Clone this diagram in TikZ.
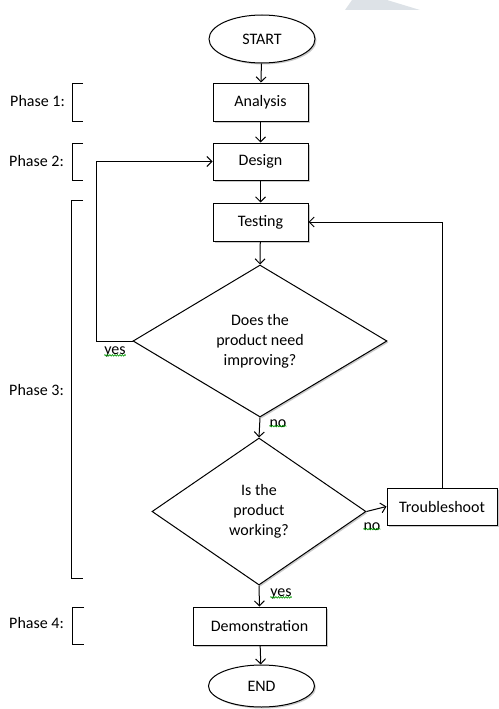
\documentclass[tikz,border=0pt]{standalone}
\usepackage{fontspec}
\setmainfont{Carlito}
\usetikzlibrary{shapes.geometric,arrows.meta,shadows,decorations.pathmorphing}
\begin{document}
\begin{tikzpicture}[x=1pt,y=-1pt,
  every node/.style={font=\fontsize{16}{20}\selectfont},
  shd/.style={drop shadow={shadow xshift=1.5pt,shadow yshift=-1.5pt,opacity=0.35,fill=black!60}},
  procbox/.style={draw,line width=1pt,rectangle,fill=white,shd,inner sep=0pt},
  term/.style={draw,line width=1pt,ellipse,fill=white,shd,inner sep=0pt},
  decis/.style={draw,line width=1pt,diamond,fill=white,shd,inner sep=0pt,align=center},
  conn/.style={line width=1pt,-{Straight Barb[length=5pt,width=10pt]}},
  brk/.style={line width=0.9pt},
  lbl/.style={inner sep=0pt},
  squig/.style={draw=green!60!black,line width=0.6pt,decorate,decoration={snake,amplitude=0.8pt,segment length=2.5pt}}
]
\useasboundingbox (0,0) rectangle (498,709);
% watermark fragment
\fill[color={rgb,255:red,221;green,226;blue,231}] (345,10) -- (352,0) -- (387,0) -- (420,10) -- cycle;

% nodes
\node[term,minimum width=106pt,minimum height=48pt] (start) at (262,39) {START};
\node[procbox,minimum width=95pt,minimum height=38pt] (analysis) at (260.5,102) {Analysis};
\node[procbox,minimum width=95pt,minimum height=37pt] (design) at (260.5,161.5) {Design};
\node[procbox,minimum width=95pt,minimum height=38pt] (testing) at (260.5,222) {Testing};
\node[decis,minimum width=254pt,minimum height=152pt] (d1) at (260,341) {Does the\\product need\\improving?};
\node[decis,minimum width=214pt,minimum height=147pt] (d2) at (259,511.5) {Is the\\product\\working?};
\node[procbox,minimum width=110pt,minimum height=37pt] (trouble) at (442,506.5) {Troubleshoot};
\node[procbox,minimum width=133pt,minimum height=38pt] (demo) at (259.5,626) {Demonstration};
\node[term,minimum width=106pt,minimum height=42pt] (end) at (261.5,686) {END};

% connectors
\draw[conn] (start) -- (analysis);
\draw[conn] (analysis) -- (design);
\draw[conn] (design) -- (testing);
\draw[conn] (testing) -- (d1.north);
\draw[conn] (d1.south) -- (d2.north);
\draw[conn] (d2.south) -- (demo.north);
\draw[conn] (demo) -- (end);
\draw[conn] (d2.east) -- (trouble.west);
\coordinate (ybot) at (96,341);
\coordinate (ytop) at (96,161.5);
\draw[conn] (d1.west) -- (ybot) -- (ytop) -- (design.west);
\coordinate (ttop) at (442,222);
\draw[conn] (trouble.north) -- (ttop) -- (testing.east);

% branch labels
\node[lbl] (yes1) at (115,352) {yes};
\node[lbl] (no1) at (278,424) {no};
\node[lbl] (no2) at (372,527) {no};
\node[lbl] (yes2) at (281,594) {yes};
\draw[squig] ([yshift=2pt]yes1.south west) -- ([yshift=2pt]yes1.south east);
\draw[squig] ([yshift=2pt]no1.south west) -- ([yshift=2pt]no1.south east);
\draw[squig] ([yshift=2pt]no2.south west) -- ([yshift=2pt]no2.south east);
\draw[squig] ([yshift=2pt]yes2.south west) -- ([yshift=2pt]yes2.south east);

% phases
\node[lbl,anchor=east] (p1) at (65,101) {Phase 1:};
\node[lbl,anchor=east] (p2) at (64,161) {Phase 2:};
\node[lbl,anchor=east] (p3) at (64,390) {Phase 3:};
\node[lbl,anchor=east] (p4) at (64,623) {Phase 4:};
\draw[brk] (83,83) -- (72,83) -- (72,121) -- (83,121);
\draw[brk] (83,143) -- (72,143) -- (72,180) -- (83,180);
\draw[brk] (83,200) -- (71,200) -- (71,578) -- (83,578);
\draw[brk] (84,607) -- (72,607) -- (72,644) -- (84,644);
\end{tikzpicture}
\end{document}
